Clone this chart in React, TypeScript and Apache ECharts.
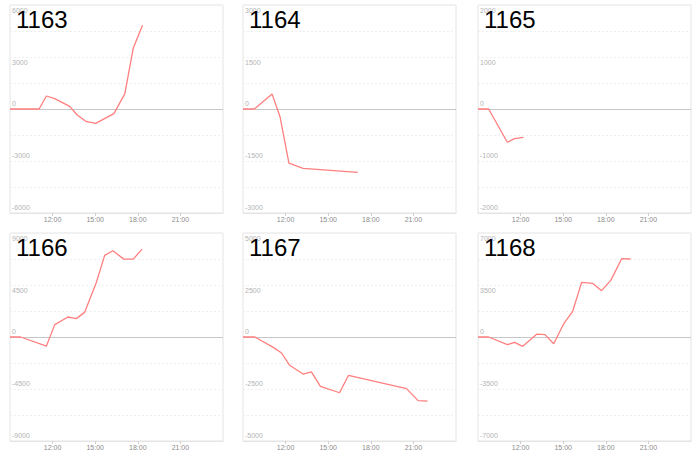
import React, { useEffect, useRef } from "react";
import * as echarts from "echarts";

const TITLES = ["1163", "1164", "1165", "1166", "1167", "1168"];
const Y_MAX = [6000, 3000, 2000, 9000, 5000, 7000];

const TIMES_1163 = ["09:00", "11:03", "11:34", "12:09", "13:12", "13:43", "14:20", "15:02", "16:19", "17:05", "17:41", "18:20"];
const VALUES_1163 = [0, 0, 750, 600, 150, -330, -710, -830, -270, 870, 3520, 4830];

const TIMES_1164 = ["09:00", "09:48", "11:03", "11:37", "12:14", "13:14", "17:05"];
const VALUES_1164 = [0, 0, 430, -240, -1560, -1710, -1830];

const TIMES_1165 = ["09:00", "09:45", "11:04", "11:34", "12:12"];
const VALUES_1165 = [0, 0, -640, -570, -545];

const TIMES_1166 = ["09:00", "09:45", "11:34", "12:09", "13:05", "13:40", "14:15", "15:04", "15:40", "16:15", "17:01", "17:41", "18:18"];
const VALUES_1166 = [0, 0, -780, 1070, 1730, 1590, 2130, 4670, 7060, 7460, 6740, 6740, 7610];

const TIMES_1167 = ["09:00", "09:50", "11:08", "11:43", "12:17", "13:14", "13:49", "14:27", "15:48", "16:26", "20:31", "21:20", "22:00"];
const VALUES_1167 = [0, 0, -500, -770, -1360, -1780, -1680, -2370, -2680, -1840, -2480, -3060, -3080];

const TIMES_1168 = ["09:00", "09:45", "11:04", "11:34", "12:09", "13:09", "13:43", "14:20", "15:04", "15:40", "16:18", "17:04", "17:42", "18:21", "19:07", "19:45"];
const VALUES_1168 = [0, 0, -520, -360, -630, 200, 160, -450, 940, 1730, 3680, 3610, 3120, 3810, 5270, 5250];

const X_MIN = 9;
const X_MAX = 24;
const X_STEP = 3;

const SERIES_TIMES = [TIMES_1163, TIMES_1164, TIMES_1165, TIMES_1166, TIMES_1167, TIMES_1168];
const SERIES_VALUES = [VALUES_1163, VALUES_1164, VALUES_1165, VALUES_1166, VALUES_1167, VALUES_1168];

const COL_LEFT = [10, 243, 478];
const ROW_TOP = [5, 233];
const GRID_W = 213;
const GRID_H = 208;

const toHours = (t: string) => {
  const [h, m] = t.split(":").map(Number);
  return h + m / 60;
};

const LINE_COLOR = "#ff7f7f";
const FONT = "Liberation Sans";

export default function App() {
  const ref = useRef<HTMLDivElement>(null);
  useEffect(() => {
    if (!ref.current) return;
    const chart = echarts.init(ref.current, undefined, { renderer: "svg" });
    const grids: any[] = [];
    const xAxes: any[] = [];
    const yAxes: any[] = [];
    const series: any[] = [];
    const titles: any[] = [];
    TITLES.forEach((name, i) => {
      const col = i % 3;
      const row = Math.floor(i / 3);
      const M = Y_MAX[i];
      grids.push({
        left: COL_LEFT[col],
        top: ROW_TOP[row],
        width: GRID_W,
        height: GRID_H,
        show: true,
        borderColor: "#e4e4e4",
        borderWidth: 1,
        backgroundColor: "transparent",
      });
      xAxes.push({
        type: "value",
        gridIndex: i,
        min: X_MIN,
        max: X_MAX,
        interval: X_STEP,
        axisLine: { show: true, onZero: false, lineStyle: { color: "#e4e4e4" } },
        axisTick: { show: true, length: 3, lineStyle: { color: "#d0d0d0" } },
        splitLine: { show: false },
        axisLabel: {
          showMinLabel: false,
          showMaxLabel: false,
          margin: 3,
          fontSize: 7,
          fontFamily: FONT,
          color: "#8c8c8c",
          formatter: (v: number) => `${v}:00`,
        },
      });
      yAxes.push({
        type: "value",
        gridIndex: i,
        min: -M,
        max: M,
        interval: M / 4,
        axisLine: { show: false },
        axisTick: { show: false },
        splitLine: { show: true, lineStyle: { color: "#efefef", type: [2, 2], width: 1 } },
        axisLabel: {
          inside: true,
          margin: 2,
          fontSize: 7,
          fontFamily: FONT,
          color: "#b4b4b4",
          formatter: (v: number) => {
            if (Math.round(v) % (M / 2) !== 0) return "";
            return v > 0 ? `{p|${v}}` : `{n|${v}}`;
          },
          rich: {
            p: { padding: [10, 0, 0, 0], fontSize: 7, fontFamily: FONT, color: "#b4b4b4" },
            n: { padding: [0, 0, 11, 0], fontSize: 7, fontFamily: FONT, color: "#b4b4b4" },
          },
        },
      });
      const times = SERIES_TIMES[i];
      const vals = SERIES_VALUES[i];
      series.push({
        type: "line",
        name: name,
        xAxisIndex: i,
        yAxisIndex: i,
        data: times.map((t, k) => [toHours(t), vals[k]]),
        showSymbol: false,
        symbol: "none",
        lineStyle: { color: LINE_COLOR, width: 1.3 },
        itemStyle: { color: LINE_COLOR },
        z: 3,
        markLine: {
          silent: true,
          symbol: "none",
          label: { show: false },
          lineStyle: { color: "#c6c6c6", type: "solid", width: 1 },
          data: [{ yAxis: 0 }],
          z: 2,
        },
      });
      titles.push({
        text: name,
        left: COL_LEFT[col] + 6,
        top: ROW_TOP[row] + 2,
        padding: 0,
        textStyle: { fontSize: 24, fontWeight: "normal", color: "#000", fontFamily: FONT },
      });
    });
    chart.setOption({
      animation: false,
      backgroundColor: "#fff",
      title: titles,
      grid: grids,
      xAxis: xAxes,
      yAxis: yAxes,
      series,
    });
    return () => chart.dispose();
  }, []);
  return (
    <div
      ref={ref}
      style={{ position: "absolute", left: 0, top: 0, width: 700, height: 456 }}
    />
  );
}
